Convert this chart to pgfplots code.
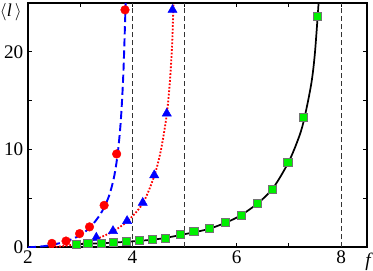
\documentclass[border={0pt 0pt 0pt 2pt}]{standalone}
\usepackage{fontspec}
\setmainfont{Liberation Serif}
\usepackage{pgfplots}
\pgfplotsset{compat=1.18}
\definecolor{mygreen}{RGB}{0,240,0}
\begin{document}
\begin{tikzpicture}
\begin{axis}[
  scale only axis,
  width=336pt, height=242pt,
  xmin=2, xmax=8.5, ymin=0, ymax=25,
  axis line style={line width=2pt},
  tick style={black, line width=1pt},
  major tick length=4pt,
  tick align=inside,
  xtick={2,3,4,5,6,7,8},
  xticklabels={2,,4,,6,,8},
  ytick={0,5,10,15,20},
  yticklabels={0,,10,,20},
  /pgf/number format/assume math mode=true,
  tick label style={font=\fontsize{19}{19}\selectfont},
  xticklabel style={yshift=0pt},
  yticklabel style={xshift=-1pt},
  clip mode=individual,
]
% vertical dashed lines
\addplot[black!80, line width=1.1pt, dash pattern=on 5pt off 3pt] coordinates {(4,0) (4,25)};
\addplot[black!80, line width=1.1pt, dash pattern=on 5pt off 3pt] coordinates {(5,0) (5,25)};
\addplot[black!80, line width=1.1pt, dash pattern=on 5pt off 3pt] coordinates {(8,0) (8,25)};
% blue dashed curve
\addplot[blue, line width=1.9pt, dash pattern=on 8pt off 4pt, smooth] coordinates {
(2.0,0.0) (2.3,0.12) (2.5,0.3) (2.75,0.65) (3.0,1.25) (3.2,2.1) (3.4,3.5) (3.55,5.2) (3.65,7.2) (3.72,9.6) (3.78,13) (3.83,18) (3.875,25.5)};
% red dotted curve
\addplot[red, line width=1.8pt, dash pattern=on 1.7pt off 1.7pt, smooth] coordinates {
(2.4,0.0) (2.7,0.15) (3.0,0.4) (3.3,0.85) (3.6,1.55) (3.9,2.65) (4.2,4.5) (4.42,7.3) (4.55,10) (4.66,13.6) (4.72,17) (4.765,21) (4.79,25.5)};
% black solid curve
\addplot[black, line width=1.7pt, smooth] coordinates {
(2.85,0.3) (3.5,0.45) (4.0,0.62) (4.5,0.86) (5.0,1.35) (5.5,1.95) (6.0,3.05) (6.4,4.5) (6.7,6.1) (7.0,8.8) (7.2,11.4) (7.3,13.3) (7.43,16.8) (7.5,20) (7.575,25.5)};
% red circles
\addplot[only marks, mark=*, mark size=4.3pt, red, mark options={draw=red, fill=red}] coordinates {
(2.46,0.41) (2.73,0.65) (2.99,1.41) (3.18,2.1) (3.46,4.3) (3.70,9.56) (3.86,24.3)};
% blue triangles
\addplot[only marks, mark=triangle*, mark size=5.3pt, blue, mark options={draw=blue, fill=blue}] coordinates {
(3.31,1.0) (3.63,1.68) (3.90,2.71) (4.20,4.57) (4.42,7.39) (4.66,13.7) (4.77,24.3)};
% green squares
\addplot[only marks, mark=square*, mark size=4pt, mark options={draw=black!55, fill=mygreen, line width=0.8pt}] coordinates {
(2.93,0.34) (3.15,0.41) (3.41,0.44) (3.63,0.52) (3.88,0.62) (4.13,0.69) (4.38,0.82) (4.64,0.93) (4.92,1.29) (5.18,1.62) (5.48,1.93) (5.78,2.55) (6.09,3.30) (6.39,4.51) (6.68,5.98) (6.98,8.69) (7.28,13.3) (7.54,23.6)};
\coordinate (TL) at (rel axis cs:0,1);
\coordinate (BR) at (rel axis cs:1,0);
\end{axis}
\node[anchor=north east, inner sep=0pt, font=\fontsize{18}{18}\selectfont] at (TL) [xshift=-6pt, yshift=0pt] {$\langle$\textit{l}\,$\rangle$};
\node[anchor=north, inner sep=0pt, font=\fontsize{19}{19}\selectfont] at (BR) [xshift=2pt, yshift=-5pt] {\textit{f}};
\end{tikzpicture}
\end{document}
